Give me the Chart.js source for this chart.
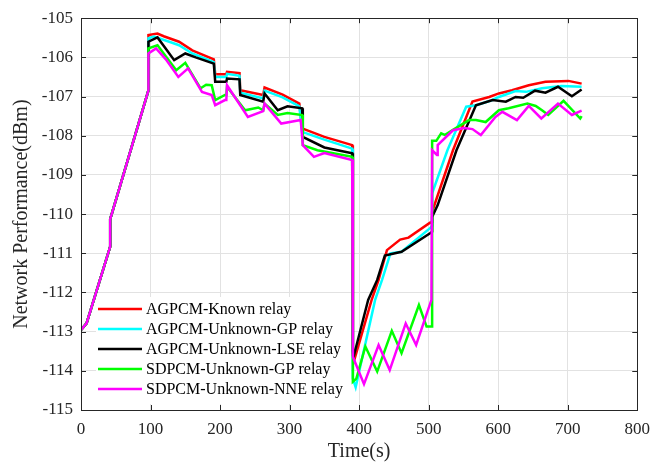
<!DOCTYPE html>
<html><head><meta charset="utf-8">
<script src="https://cdn.jsdelivr.net/npm/chart.js@4/dist/chart.umd.min.js"></script>
<style>html,body{margin:0;padding:0;background:#fff;}</style>
</head><body>
<canvas id="c" width="659" height="465"></canvas>
<script>
// ---- data ----
const xTicks = [0, 100, 200, 300, 400, 500, 600, 700, 800];
const yTicks = [-115, -114, -113, -112, -111, -110, -109, -108, -107, -106, -105];
const seriesNames = ["AGPCM-Known relay", "AGPCM-Unknown-GP relay", "AGPCM-Unknown-LSE relay", "SDPCM-Unknown-GP relay", "SDPCM-Unknown-NNE relay"];

// shared ramp at the start (all five series coincide)
const tStart = [0, 8, 42, 42, 97];
const vStart = [-112.96, -112.79, -110.83, -110.13, -106.84];

const tRed = [97,110,119,141,160,191,193,209,210,228,229,262,264,290,314,318,350,390,391,393,418,428,440,459,471,502,505,505,535,563,587,601,620,644,668,701,720];
const vRed = [-105.43,-105.39,-105.46,-105.6,-105.82,-106.05,-106.43,-106.43,-106.37,-106.4,-106.84,-106.96,-106.77,-106.95,-107.18,-107.81,-108.03,-108.24,-113.6,-113.73,-112.19,-111.68,-110.92,-110.65,-110.6,-110.22,-110.2,-109.94,-108.37,-107.13,-107.01,-106.92,-106.84,-106.71,-106.62,-106.6,-106.67];

const tCyan = [97,105,130,141,160,191,193,209,210,228,229,262,264,290,314,318,350,390,391,395,423,433,445,461,502,505,505,527,554,568,590,601,625,640,663,691,720];
const vCyan = [-105.51,-105.47,-105.62,-105.69,-105.9,-106.12,-106.5,-106.5,-106.42,-106.47,-106.9,-107.05,-106.85,-107.02,-107.25,-107.9,-108.1,-108.33,-114.2,-114.42,-112.19,-111.68,-111.0,-110.96,-110.36,-110.3,-109.47,-108.37,-107.26,-107.22,-107.1,-107.01,-106.86,-106.88,-106.79,-106.73,-106.75];

const tBlack = [97,110,122,134,150,165,191,193,209,210,228,229,262,264,283,297,318,319,350,390,391,392,413,426,437,461,502,505,505,513,540,568,592,611,625,636,653,668,686,706,720];
const vBlack = [-105.6,-105.49,-105.78,-106.07,-105.9,-106.0,-106.16,-106.62,-106.62,-106.54,-106.56,-106.96,-107.13,-106.92,-107.35,-107.25,-107.3,-108.03,-108.3,-108.45,-113.5,-113.64,-112.19,-111.68,-111.06,-110.96,-110.49,-110.45,-110.07,-109.77,-108.37,-107.22,-107.09,-107.13,-107.01,-107.03,-106.85,-106.9,-106.75,-106.99,-106.82];

const tGreen = [97,110,137,150,172,180,188,193,207,209,210,236,255,262,264,283,297,318,319,340,390,391,396,409,426,447,461,486,497,505,505,511,518,523,535,558,568,582,601,615,642,654,663,672,694,718,720];
const vGreen = [-105.77,-105.69,-106.33,-106.14,-106.79,-106.7,-106.71,-107.09,-106.96,-106.96,-106.75,-107.35,-107.28,-107.35,-107.18,-107.47,-107.42,-107.47,-108.24,-108.37,-108.54,-114.28,-114.2,-113.38,-114.02,-112.98,-113.55,-112.32,-112.87,-112.87,-108.13,-108.13,-107.94,-107.98,-107.85,-107.6,-107.6,-107.65,-107.35,-107.3,-107.18,-107.24,-107.35,-107.47,-107.11,-107.56,-107.5];

const tMag = [97,108,122,140,154,174,188,193,207,209,210,240,262,264,288,316,319,335,350,390,391,407,428,444,467,482,504,505,512,513,535,551,563,575,596,606,627,644,662,686,706,720];
const vMag = [-105.9,-105.77,-106.05,-106.5,-106.28,-106.88,-106.96,-107.22,-107.09,-107.09,-106.71,-107.52,-107.37,-107.18,-107.69,-107.6,-108.24,-108.54,-108.44,-108.62,-113.64,-114.34,-113.34,-113.98,-112.79,-113.34,-112.19,-108.37,-108.49,-108.24,-107.86,-107.8,-107.83,-107.98,-107.52,-107.39,-107.6,-107.24,-107.56,-107.18,-107.47,-107.36];

// ---- build ----
const FONT = "'Liberation Serif', 'Times New Roman', serif";
const GRID = '#e2e2e2';
const AX = '#262626';
function pts(ts, vs) {
  const out = tStart.map((t, i) => ({x: t, y: vStart[i]}));
  ts.forEach((t, i) => out.push({x: t, y: vs[i]}));
  return out;
}
const colors = ['#ff0000', '#00ffff', '#000000', '#00ff00', '#ff00ff'];
const series = [[tRed, vRed], [tCyan, vCyan], [tBlack, vBlack], [tGreen, vGreen], [tMag, vMag]];
const datasets = series.map((s, i) => ({
  label: seriesNames[i], data: pts(s[0], s[1]), borderColor: colors[i], backgroundColor: colors[i],
  borderWidth: 2.5, pointRadius: 0, tension: 0, fill: false, order: 4 - i
}));

const framePlugin = {
  id: 'frame',
  afterDatasetsDraw(chart) {
    const {ctx, chartArea: a} = chart;
    // legend
    ctx.save();
    ctx.fillStyle = '#fff';
    ctx.fillRect(a.left + 15, a.bottom - 113, 255, 107);
    ctx.font = '16px ' + FONT;
    ctx.textBaseline = 'middle';
    ctx.textAlign = 'left';
    datasets.forEach((d, i) => {
      const yy = a.bottom - 101 + i * 20;
      ctx.strokeStyle = d.borderColor; ctx.lineWidth = 2.5;
      ctx.beginPath(); ctx.moveTo(a.left + 17, yy); ctx.lineTo(a.left + 61, yy); ctx.stroke();
      ctx.fillStyle = '#000';
      ctx.fillText(d.label, a.left + 65, yy + 1);
    });
    ctx.restore();
  },
  afterDraw(chart) {
    const {ctx, chartArea: a, scales: {x, y}} = chart;
    ctx.save();
    ctx.strokeStyle = AX; ctx.lineWidth = 1;
    ctx.beginPath();
    xTicks.forEach(v => {
      const px = Math.round(x.getPixelForValue(v)) + 0.5;
      ctx.moveTo(px, a.bottom); ctx.lineTo(px, a.bottom - 5);
      ctx.moveTo(px, a.top); ctx.lineTo(px, a.top + 5);
    });
    yTicks.forEach(v => {
      const py = Math.round(y.getPixelForValue(v)) + 0.5;
      ctx.moveTo(a.left, py); ctx.lineTo(a.left + 5, py);
      ctx.moveTo(a.right, py); ctx.lineTo(a.right - 5, py);
    });
    ctx.stroke();
    ctx.strokeRect(Math.round(a.left) + 0.5, Math.round(a.top) + 0.5, Math.round(a.right - a.left), Math.round(a.bottom - a.top));
    ctx.restore();
  }
};

new Chart(document.getElementById('c'), {
  type: 'line',
  data: {datasets},
  plugins: [framePlugin],
  options: {
    responsive: false, animation: false, devicePixelRatio: 1,
    layout: {padding: {left: 0, right: 16, top: 18, bottom: 0}},
    plugins: {legend: {display: false}, tooltip: {enabled: false}},
    scales: {
      x: {
        type: 'linear', min: 0, max: 800,
        afterBuildTicks: s => { s.ticks = xTicks.map(v => ({value: v})); },
        afterFit: s => { s.height = 55; },
        ticks: {callback: v => String(v), font: {family: FONT, size: 17}, color: AX, padding: 9, maxRotation: 0, autoSkip: false},
        grid: {color: GRID, drawTicks: false, lineWidth: 1},
        border: {display: false},
        title: {display: true, text: 'Time(s)', font: {family: FONT, size: 20}, color: AX, padding: {top: 0, bottom: 1}}
      },
      y: {
        type: 'linear', min: -115, max: -105,
        afterBuildTicks: s => { s.ticks = yTicks.map(v => ({value: v})); },
        afterFit: s => { s.width = 81; },
        ticks: {callback: v => String(v), font: {family: FONT, size: 17}, color: AX, padding: 8, autoSkip: false},
        grid: {color: GRID, drawTicks: false, lineWidth: 1},
        border: {display: false},
        title: {display: true, text: 'Network Performance(dBm)', font: {family: FONT, size: 20}, color: AX, padding: {top: 10, bottom: 0}}
      }
    }
  }
});
</script>
</body></html>
